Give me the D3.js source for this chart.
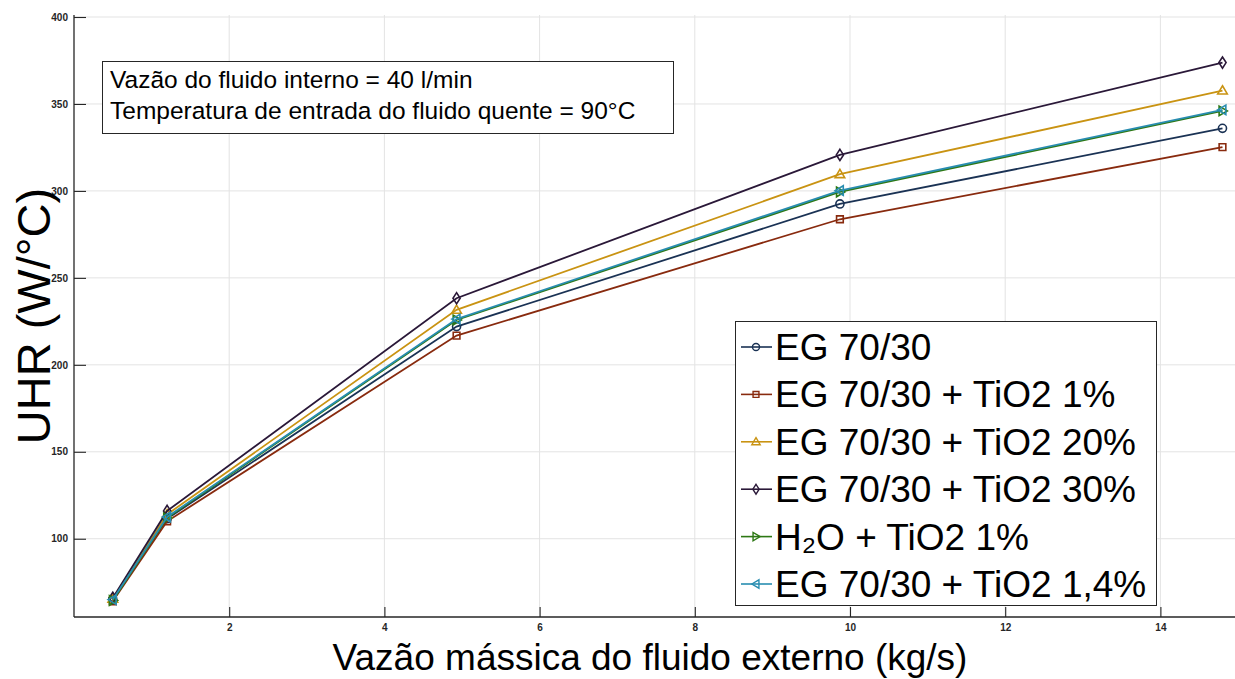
<!DOCTYPE html>
<html>
<head>
<meta charset="utf-8">
<script src="https://cdn.jsdelivr.net/npm/d3@7"></script>
<style>
  body { margin: 0; background: #fff; }
  svg { display: block; font-family: "Liberation Sans", Arial, sans-serif; }
</style>
</head>
<body>
<div id="chart"></div>
<script>
// mass flow of the external fluid (kg/s)
var flows = [0.5, 1.2, 4.93, 9.87, 14.8];

var seriesNames = [
  "EG 70/30",
  "EG 70/30 + TiO2 1%",
  "EG 70/30 + TiO2 20%",
  "EG 70/30 + TiO2 30%",
  "H\u2082O + TiO2 1%",
  "EG 70/30 + TiO2 1,4%"
];

// UHR values (W/°C)
var eg = [65, 111.5, 222, 292.5, 336];
var tio1 = [64, 110, 216.8, 283.7, 325.2];
var tio20 = [65.5, 114, 231.6, 309.6, 357.7];
var tio30 = [66, 116, 238.3, 320.7, 373.8];
var h2o = [64.5, 112, 225.8, 299.4, 346.0];
var tio14 = [65, 112.5, 226.3, 300.2, 346.6];

var xTicks = [2, 4, 6, 8, 10, 12, 14];
var yTicks = [100, 150, 200, 250, 300, 350, 400];

var colors = ["#1a3254", "#882a0e", "#c99312", "#2a1838", "#2d7814", "#288db0"];
var shapes = ["circle", "square", "triUp", "diamond", "triRight", "triLeft"];

var notes = [
  "Vaz\u00e3o do fluido interno = 40 l/min",
  "Temperatura de entrada do fluido quente = 90\u00b0C"
];

var allValues = [eg, tio1, tio20, tio30, h2o, tio14];

var W = 1235, H = 679;
var plotL = 74, plotR = 1238, plotT = 17, plotB = 617;

var svg = d3.select("#chart").append("svg")
    .attr("width", W)
    .attr("height", H);

var x = d3.scaleLinear().domain([0, 15]).range([plotL, plotR]);
var y = d3.scaleLinear().domain([55, 400]).range([plotB, plotT]);

// grid
svg.append("g").selectAll("line").data(xTicks).enter().append("line")
    .attr("x1", function(d) { return x(d); })
    .attr("x2", function(d) { return x(d); })
    .attr("y1", plotT - 2).attr("y2", plotB)
    .style("stroke", "#e3e3e3").style("stroke-width", 1);
svg.append("g").selectAll("line").data(yTicks).enter().append("line")
    .attr("x1", plotL).attr("x2", W)
    .attr("y1", function(d) { return y(d); })
    .attr("y2", function(d) { return y(d); })
    .style("stroke", "#e3e3e3").style("stroke-width", 1);

// axes, ticks pointing inward
var xAxis = svg.append("g")
    .attr("transform", "translate(0," + plotB + ")")
    .call(d3.axisBottom(x).tickValues(xTicks).tickSizeInner(-10).tickSizeOuter(0).tickPadding(7));
var yAxis = svg.append("g")
    .attr("transform", "translate(" + plotL + ",0)")
    .call(d3.axisLeft(y).tickValues(yTicks).tickSizeInner(-12).tickSizeOuter(0).tickPadding(6));

[xAxis, yAxis].forEach(function(a) {
  a.select(".domain").style("stroke", "#262626").style("stroke-width", 1.3);
  a.selectAll(".tick line").style("stroke", "#262626").style("stroke-width", 1.1);
  a.selectAll(".tick text")
      .style("font-size", "10px")
      .style("font-weight", "bold")
      .style("font-family", "'Liberation Sans', Arial, sans-serif")
      .style("fill", "#262626");
});
xAxis.select(".domain").attr("d", "M" + plotL + ",0H" + W);
yAxis.select(".domain").attr("d", "M0," + (plotT - 2) + "V" + plotB);

// marker paths
function marker(shape, s) {
  if (shape == "circle") return d3.symbol().type(d3.symbolCircle).size(s * s * 0.8)();
  if (shape == "square") return d3.symbol().type(d3.symbolSquare).size(s * s * 0.7)();
  if (shape == "diamond") return "M0," + (-s * 0.7) + "L" + (s * 0.45) + ",0L0," + (s * 0.7) + "L" + (-s * 0.45) + ",0Z";
  var h = s * 0.6;
  if (shape == "triUp") return "M0," + (-h) + "L" + h + "," + (h * 0.7) + "L" + (-h) + "," + (h * 0.7) + "Z";
  if (shape == "triRight") return "M" + h + ",0L" + (-h * 0.7) + "," + (-h) + "L" + (-h * 0.7) + "," + h + "Z";
  return "M" + (-h) + ",0L" + (h * 0.7) + "," + (-h) + "L" + (h * 0.7) + "," + h + "Z";
}

var line = d3.line()
    .x(function(d, i) { return x(flows[i]); })
    .y(function(d) { return y(d); });

allValues.forEach(function(vals, k) {
  var g = svg.append("g");
  g.append("path")
      .datum(vals)
      .attr("d", line)
      .style("fill", "none")
      .style("stroke", colors[k])
      .style("stroke-width", 1.8);
  g.selectAll("path.mk").data(vals).enter().append("path")
      .attr("class", "mk")
      .attr("transform", function(d, i) { return "translate(" + x(flows[i]) + "," + y(d) + ")"; })
      .attr("d", marker(shapes[k], 8))
      .style("fill", "none")
      .style("stroke", colors[k])
      .style("stroke-width", 1.6);
});

// annotation box
var note = svg.append("g");
note.append("rect")
    .attr("x", 102.5).attr("y", 61.5)
    .attr("width", 571).attr("height", 72)
    .style("fill", "#fff").style("stroke", "#262626").style("stroke-width", 1);
note.selectAll("text").data(notes).enter().append("text")
    .attr("x", 110)
    .attr("y", function(d, i) { return 88 + i * 31; })
    .style("font-size", "24.5px")
    .style("fill", "#000")
    .text(function(d) { return d; });

// legend
var lg = svg.append("g");
lg.append("rect")
    .attr("x", 735.5).attr("y", 321.5)
    .attr("width", 421).attr("height", 284)
    .style("fill", "#fff").style("stroke", "#262626").style("stroke-width", 1);
seriesNames.forEach(function(name, k) {
  var cy = 347 + k * 47.4;
  lg.append("line")
      .attr("x1", 741).attr("x2", 772)
      .attr("y1", cy).attr("y2", cy)
      .style("stroke", colors[k]).style("stroke-width", 1.6);
  lg.append("path")
      .attr("transform", "translate(756," + cy + ")")
      .attr("d", marker(shapes[k], 7))
      .style("fill", "none")
      .style("stroke", colors[k])
      .style("stroke-width", 1.4);
  lg.append("text")
      .attr("x", 775)
      .attr("y", cy + 13)
      .style("font-size", "37px")
      .style("fill", "#000")
      .text(name);
});

// axis titles
svg.append("text")
    .attr("x", 650)
    .attr("y", 670)
    .attr("text-anchor", "middle")
    .style("font-size", "37px")
    .style("fill", "#000")
    .text("Vaz\u00e3o m\u00e1ssica do fluido externo (kg/s)");

svg.append("text")
    .attr("transform", "translate(50,316) rotate(-90)")
    .attr("text-anchor", "middle")
    .style("font-size", "47px")
    .style("fill", "#000")
    .text("UHR (W/\u00b0C)");
</script>
</body>
</html>
